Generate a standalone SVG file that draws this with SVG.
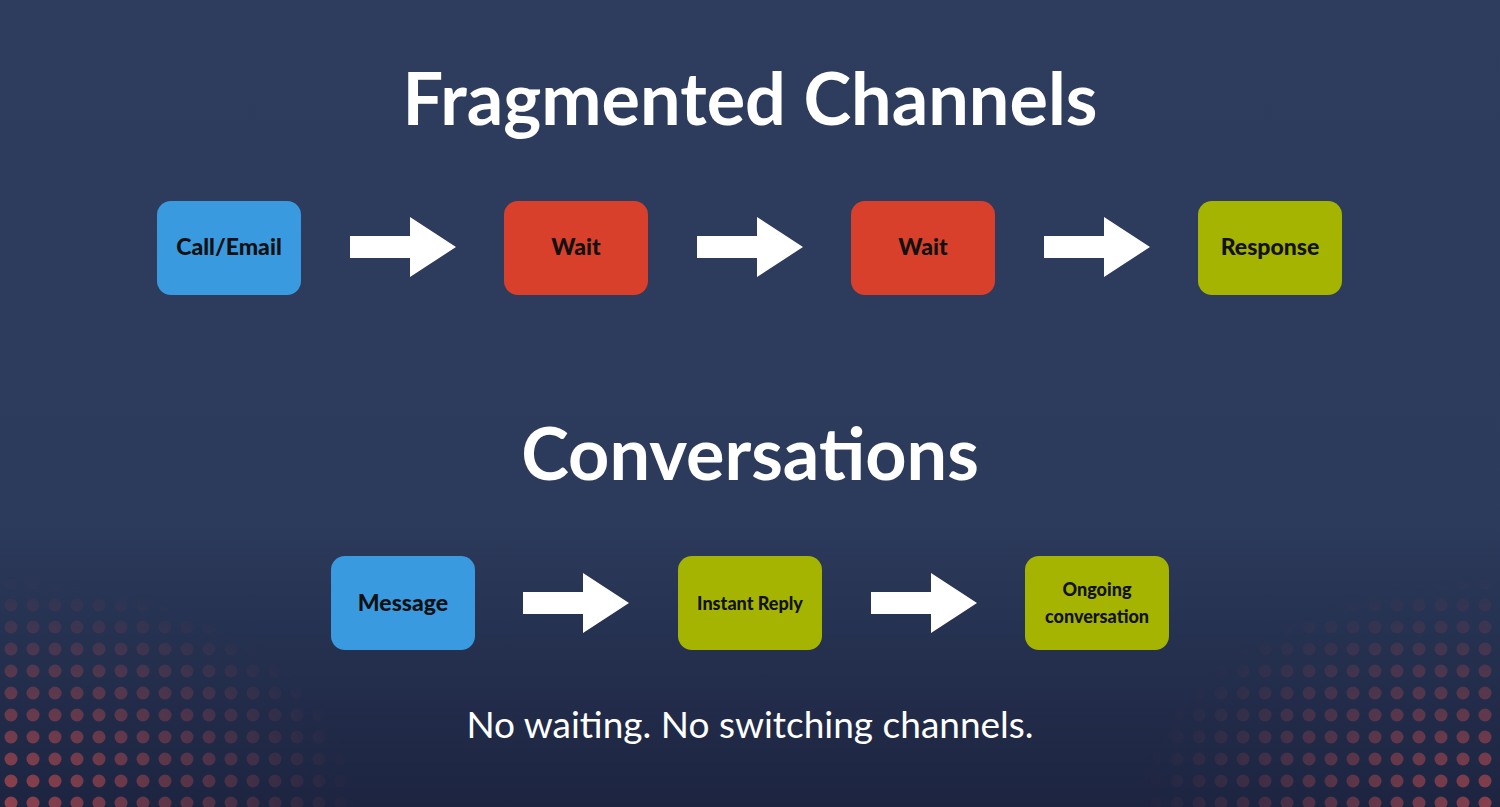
<svg xmlns="http://www.w3.org/2000/svg" width="1500" height="807" viewBox="0 0 1500 807">
<defs>
<linearGradient id="bg" x1="0" y1="0" x2="0" y2="1">
<stop offset="0" stop-color="#2e3c5e"/><stop offset="0.65" stop-color="#2c3a5b"/><stop offset="1" stop-color="#1c2440"/>
</linearGradient>
<pattern id="dots" x="0" y="0" width="22" height="22" patternUnits="userSpaceOnUse">
<circle cx="11" cy="11" r="6.5" fill="#b04a50"/>
</pattern>
<radialGradient id="fadeL" cx="0" cy="1" r="0.75">
<stop offset="0" stop-color="#fff" stop-opacity="0.8"/><stop offset="0.6" stop-color="#fff" stop-opacity="0.35"/><stop offset="1" stop-color="#fff" stop-opacity="0"/>
</radialGradient>
<radialGradient id="fadeR" cx="1" cy="1" r="0.75">
<stop offset="0" stop-color="#fff" stop-opacity="0.75"/><stop offset="0.6" stop-color="#fff" stop-opacity="0.3"/><stop offset="1" stop-color="#fff" stop-opacity="0"/>
</radialGradient>
<mask id="mL"><rect x="0" y="500" width="480" height="307" fill="url(#fadeL)"/></mask>
<mask id="mR"><rect x="1020" y="500" width="480" height="307" fill="url(#fadeR)"/></mask>
<polygon id="arrow" points="0,-11 60,-11 60,-30 106,0 60,30 60,11 0,11" fill="#fff"/>
<style>
.box{rx:14px}
.lbl{font-family:Lato,"Liberation Sans",sans-serif;font-weight:900;fill:#111;text-anchor:middle}
.title{font-family:Lato,"Liberation Sans",sans-serif;font-weight:bold;fill:#fff;text-anchor:middle;font-size:72px}
</style>
</defs>
<rect width="1500" height="807" fill="url(#bg)"/>
<rect x="0" y="500" width="480" height="307" fill="url(#dots)" mask="url(#mL)"/>
<rect x="1020" y="500" width="480" height="307" fill="url(#dots)" mask="url(#mR)"/>
<text class="title" x="750" y="125">Fragmented Channels</text>
<text class="title" x="750" y="480">Conversations</text>
<g id="connectors">
<use href="#arrow" x="350" y="247"/>
<use href="#arrow" x="697" y="247"/>
<use href="#arrow" x="1044" y="247"/>
<use href="#arrow" x="523" y="603"/>
<use href="#arrow" x="871" y="603"/>
</g>
<g id="n1"><rect class="box" x="157" y="201" width="144" height="94" fill="#3a9ae0"/><text class="lbl" x="229" y="255" font-size="23">Call/Email</text></g>
<g id="n2"><rect class="box" x="504" y="201" width="144" height="94" fill="#d9402b"/><text class="lbl" x="576" y="255" font-size="23">Wait</text></g>
<g id="n3"><rect class="box" x="851" y="201" width="144" height="94" fill="#d9402b"/><text class="lbl" x="923" y="255" font-size="23">Wait</text></g>
<g id="n4"><rect class="box" x="1198" y="201" width="144" height="94" fill="#a4b400"/><text class="lbl" x="1270" y="255" font-size="23">Response</text></g>
<g id="n5"><rect class="box" x="331" y="556" width="144" height="94" fill="#3a9ae0"/><text class="lbl" x="403" y="611" font-size="23">Message</text></g>
<g id="n6"><rect class="box" x="678" y="556" width="144" height="94" fill="#a4b400"/><text class="lbl" x="750" y="610" font-size="18">Instant Reply</text></g>
<g id="n7"><rect class="box" x="1025" y="556" width="144" height="94" fill="#a4b400"/><text class="lbl" x="1097" y="596" font-size="18">Ongoing</text><text class="lbl" x="1097" y="623" font-size="18">conversation</text></g>
<text x="750" y="738" font-family="Lato,'Liberation Sans',sans-serif" font-size="37" fill="#fff" text-anchor="middle">No waiting. No switching channels.</text>
</svg>
